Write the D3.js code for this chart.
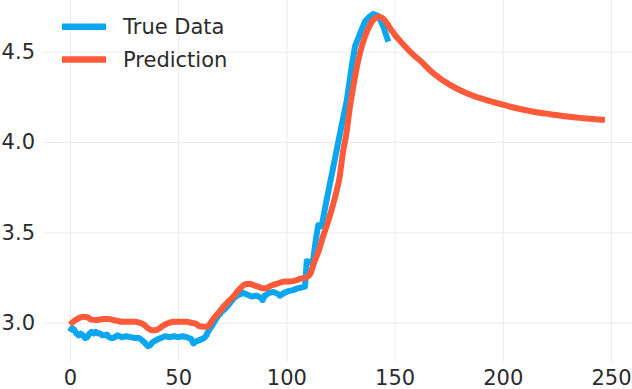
<!DOCTYPE html>
<html>
<head>
<meta charset="utf-8">
<script src="https://cdn.jsdelivr.net/npm/d3@7"></script>
<style>
  html, body { margin: 0; padding: 0; background: #fff; }
  svg { display: block; font-family: "DejaVu Sans", sans-serif; }
</style>
</head>
<body>
<svg id="chart" width="632" height="389"></svg>
<script>
// ---- data ----
const trueT = [0,1,2,3,4,5,6,7,8,9,10,11,12,13,14,15,16,17,18,19,20,22,24,26,28,30,32,34,36,37,38,40,42,44,46,48,50,52,54,56,57,58,60,62,63,64,66,68,70,72,74,76,78,80,82,84,86,88,89,90,92,94,96,97,99,101,103,105,107,108.6,109.4,111,112.4,113.5,114.7,116.3,118.6,121.7,124.8,127.9,130.2,131.7,134,136.3,138,140.2,142.5,144.8,147.1];
const trueV = [2.95,2.97,2.96,2.94,2.93,2.94,2.93,2.915,2.92,2.94,2.95,2.94,2.95,2.94,2.94,2.93,2.93,2.935,2.92,2.915,2.915,2.93,2.92,2.925,2.92,2.915,2.915,2.895,2.87,2.875,2.89,2.905,2.915,2.925,2.92,2.925,2.92,2.925,2.92,2.91,2.885,2.895,2.905,2.915,2.93,2.955,2.99,3.03,3.06,3.08,3.11,3.14,3.155,3.165,3.155,3.145,3.15,3.14,3.125,3.15,3.165,3.17,3.16,3.15,3.165,3.175,3.18,3.19,3.195,3.2,3.34,3.335,3.35,3.45,3.54,3.535,3.68,3.864,4.05,4.23,4.42,4.53,4.60,4.667,4.69,4.709,4.698,4.639,4.556];

const predT = [0,2,4,6,8,10,12,14,16,18,20,22,24,26,28,30,32,34,36,38,40,42,44,46,48,50,52,54,56,58,60,62,63.5,65,66.5,69,71,73,75.5,77.5,79.5,81,83,85,87,89,90.5,92,94,96,98.5,101,103,105,107,109,111,113,115,117,119,121,123,124.5,126.3,127.5,129.4,131.7,134,136.3,138.6,140.5,142.5,144,145.6,147.9,150,152.5,155,157.1,161.7,167.9,175.6,183.3,191,198.7,206.4,214.1,221.8,229.5,237.2,247.2];
const predV = [2.99,3.01,3.025,3.033,3.03,3.017,3.015,3.018,3.02,3.02,3.015,3.01,3.005,3.005,3.005,3.005,3.0,2.99,2.97,2.958,2.96,2.975,2.99,3.0,3.005,3.005,3.005,3.005,3.0,2.995,2.98,2.978,2.978,3.0,3.025,3.06,3.09,3.115,3.145,3.175,3.2,3.213,3.215,3.207,3.2,3.19,3.19,3.2,3.21,3.217,3.227,3.228,3.23,3.237,3.245,3.25,3.27,3.34,3.40,3.48,3.55,3.63,3.72,3.8,3.956,4.03,4.196,4.362,4.492,4.584,4.648,4.68,4.694,4.69,4.672,4.63,4.595,4.56,4.527,4.5,4.452,4.381,4.316,4.27,4.237,4.211,4.187,4.168,4.154,4.141,4.132,4.122];

const xTicks = [0, 50, 100, 150, 200, 250];
const yTicks = [3.0, 3.5, 4.0, 4.5];
const seriesNames = ["True Data", "Prediction"];
const seriesColors = ["#0aa6f0", "#fc5a38"];

// ---- layout ----
const svg = d3.select("#chart");
const plot = { left: 43, right: 632, top: 0, bottom: 362 };
const x = d3.scaleLinear().domain([0, 250]).range([70, 611]);
const y = d3.scaleLinear().domain([3.0, 4.5]).range([322.7, 51.7]);

// grid
const gx = svg.append("g").attr("transform", `translate(0,${plot.bottom})`)
  .call(d3.axisBottom(x).tickValues(xTicks).tickSize(-(plot.bottom - plot.top)).tickFormat(""));
gx.select(".domain").remove();
gx.selectAll("line").attr("stroke", "#ebebeb").attr("stroke-width", 1);

const gy = svg.append("g").attr("transform", `translate(${plot.left},0)`)
  .call(d3.axisLeft(y).tickValues(yTicks).tickSize(-(plot.right - plot.left)).tickFormat(""));
gy.select(".domain").remove();
gy.selectAll("line").attr("stroke", "#ebebeb").attr("stroke-width", 1);

// axes labels
const ax = svg.append("g").attr("transform", `translate(0,${plot.bottom})`)
  .call(d3.axisBottom(x).tickValues(xTicks).tickSize(0).tickPadding(8).tickFormat(d3.format("d")));
ax.select(".domain").remove();
ax.selectAll("text").attr("font-size", 21).attr("fill", "#2b2b2b").attr("font-family", "DejaVu Sans");

const ay = svg.append("g").attr("transform", `translate(${plot.left},0)`)
  .call(d3.axisLeft(y).tickValues(yTicks).tickSize(0).tickPadding(8).tickFormat(d3.format(".1f")));
ay.select(".domain").remove();
ay.selectAll("text").attr("font-size", 21).attr("fill", "#2b2b2b").attr("font-family", "DejaVu Sans");

// lines
const trueData = trueT.map((t, i) => [t, trueV[i]]);
const predData = predT.map((t, i) => [t, predV[i]]);

svg.append("path").datum(trueData)
  .attr("fill", "none").attr("stroke", seriesColors[0]).attr("stroke-width", 6)
  .attr("stroke-linejoin", "round").attr("stroke-linecap", "butt")
  .attr("d", d3.line().x(d => x(d[0])).y(d => y(d[1])));

svg.append("path").datum(predData)
  .attr("fill", "none").attr("stroke", seriesColors[1]).attr("stroke-width", 6)
  .attr("stroke-linejoin", "round").attr("stroke-linecap", "butt")
  .attr("d", d3.line().curve(d3.curveMonotoneX).x(d => x(d[0])).y(d => y(d[1])));

// legend
const legY = [26.7, 59.5];
const leg = svg.append("g");
seriesNames.forEach((name, i) => {
  leg.append("line").attr("x1", 62).attr("x2", 106).attr("y1", legY[i]).attr("y2", legY[i])
    .attr("stroke", seriesColors[i]).attr("stroke-width", 6.5);
  leg.append("text").attr("x", 123).attr("y", legY[i]).attr("dy", "0.35em")
    .attr("font-size", 21).attr("fill", "#2b2b2b").text(name);
});
</script>
</body>
</html>
